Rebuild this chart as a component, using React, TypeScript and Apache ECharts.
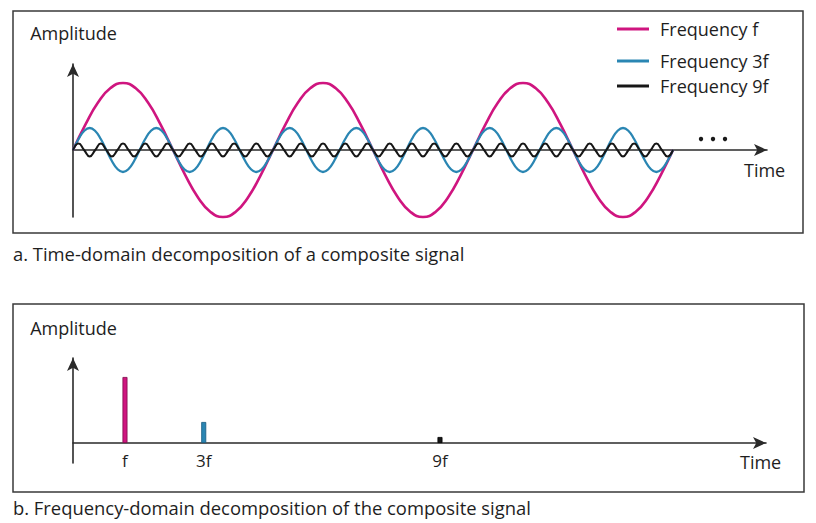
import React, { useEffect, useRef } from "react";
import * as echarts from "echarts";

// Time-domain samples (amplitude in px-like units)
const timeStepF = 12.5; // 1/16 of a period of f
const waveF = [
  0, 25.6, 47.4, 61.9, 67, 61.9, 47.4, 25.6, 0, -25.6, -47.4, -61.9, -67, -61.9, -47.4, -25.6,
  0, 25.6, 47.4, 61.9, 67, 61.9, 47.4, 25.6, 0, -25.6, -47.4, -61.9, -67, -61.9, -47.4, -25.6,
  0, 25.6, 47.4, 61.9, 67, 61.9, 47.4, 25.6, 0, -25.6, -47.4, -61.9, -67, -61.9, -47.4, -25.6,
  0,
];
const timeStep3F = 600 / 108; // 1/12 of a period of 3f
const wave3F = [
  0, 11, 19, 22, 19, 11, 0, -11, -19, -22, -19, -11,
  0, 11, 19, 22, 19, 11, 0, -11, -19, -22, -19, -11,
  0, 11, 19, 22, 19, 11, 0, -11, -19, -22, -19, -11,
  0, 11, 19, 22, 19, 11, 0, -11, -19, -22, -19, -11,
  0, 11, 19, 22, 19, 11, 0, -11, -19, -22, -19, -11,
  0, 11, 19, 22, 19, 11, 0, -11, -19, -22, -19, -11,
  0, 11, 19, 22, 19, 11, 0, -11, -19, -22, -19, -11,
  0, 11, 19, 22, 19, 11, 0, -11, -19, -22, -19, -11,
  0, 11, 19, 22, 19, 11, 0, -11, -19, -22, -19, -11,
  0,
];
const timeStep9F = 600 / 108; // quarter of a period of 9f
const wave9F = [
  0, 6.5, 0, -6.5, 0, 6.5, 0, -6.5, 0, 6.5, 0, -6.5,
  0, 6.5, 0, -6.5, 0, 6.5, 0, -6.5, 0, 6.5, 0, -6.5,
  0, 6.5, 0, -6.5, 0, 6.5, 0, -6.5, 0, 6.5, 0, -6.5,
  0, 6.5, 0, -6.5, 0, 6.5, 0, -6.5, 0, 6.5, 0, -6.5,
  0, 6.5, 0, -6.5, 0, 6.5, 0, -6.5, 0, 6.5, 0, -6.5,
  0, 6.5, 0, -6.5, 0, 6.5, 0, -6.5, 0, 6.5, 0, -6.5,
  0, 6.5, 0, -6.5, 0, 6.5, 0, -6.5, 0, 6.5, 0, -6.5,
  0, 6.5, 0, -6.5, 0, 6.5, 0, -6.5, 0, 6.5, 0, -6.5,
  0, 6.5, 0, -6.5, 0, 6.5, 0, -6.5, 0, 6.5, 0, -6.5,
  0,
];

// Frequency-domain spectrum
const spectrumFreq = [1, 3, 9];
const spectrumAmp = [66, 21, 6];
const spectrumLabels = ["f", "3f", "9f"];

const seriesNames = ["Frequency f", "Frequency 3f", "Frequency 9f"];
const colors = ["#cf157f", "#2a86b3", "#161616"];
const borderColors = ["#7d0d4a", "#175a80", "#000000"];

const FONT = "Open Sans";
const TEXT = "#1e1e1e";
const AXIS = "#2a2a2a";

const toPairs = (vals: number[], step: number) => vals.map((v, i) => [i * step, v]);

export default function App() {
  const ref = useRef<HTMLDivElement>(null);
  useEffect(() => {
    if (!ref.current) return;
    const chart = echarts.init(ref.current, undefined, { renderer: "svg" });
    const arrowLine = {
      show: true,
      symbol: ["none", "arrow"],
      symbolSize: [9, 13],
      lineStyle: { color: AXIS, width: 1.6 },
    };
    const legendBase = {
      orient: "horizontal" as const,
      left: 617,
      icon: "rect",
      itemWidth: 32,
      itemHeight: 3,
      selectedMode: false,
      padding: 0,
      textStyle: { fontFamily: FONT, fontSize: 18, color: TEXT, padding: [0, 0, 0, 6] },
    };
    chart.setOption({
      animation: false,
      backgroundColor: "#ffffff",
      legend: [
        { ...legendBase, top: 20, data: [seriesNames[0]] },
        { ...legendBase, top: 52, data: [seriesNames[1]] },
        { ...legendBase, top: 77, data: [seriesNames[2]] },
      ],
      grid: [
        { left: 73, top: 64, width: 694, height: 153 },
        { left: 73, top: 358, width: 693, height: 105 },
      ],
      xAxis: [
        {
          gridIndex: 0,
          type: "value",
          min: 0,
          max: 694,
          axisLine: { ...arrowLine, onZero: true },
          axisTick: { show: false },
          axisLabel: { show: false },
          splitLine: { show: false },
        },
        {
          gridIndex: 1,
          type: "value",
          min: -0.32,
          max: 17.28,
          axisLine: { ...arrowLine, onZero: true },
          axisTick: { show: false },
          splitLine: { show: false },
          axisLabel: {
            show: true,
            customValues: spectrumFreq,
            formatter: (v: number) => spectrumLabels[spectrumFreq.indexOf(v)] ?? "",
            fontFamily: FONT,
            fontSize: 17,
            color: TEXT,
            margin: -11,
          },
        },
      ],
      yAxis: [
        {
          gridIndex: 0,
          type: "value",
          min: -67,
          max: 86,
          axisLine: { ...arrowLine, onZero: false },
          axisTick: { show: false },
          axisLabel: { show: false },
          splitLine: { show: false },
        },
        {
          gridIndex: 1,
          type: "value",
          min: -20,
          max: 85,
          axisLine: { ...arrowLine, onZero: false },
          axisTick: { show: false },
          axisLabel: { show: false },
          splitLine: { show: false },
        },
      ],
      series: [
        {
          name: seriesNames[0],
          type: "line",
          xAxisIndex: 0,
          yAxisIndex: 0,
          data: toPairs(waveF, timeStepF),
          smooth: true,
          showSymbol: false,
          symbol: "none",
          clip: false,
          color: colors[0],
          lineStyle: { color: colors[0], width: 2.6 },
          z: 3,
        },
        {
          name: seriesNames[1],
          type: "line",
          xAxisIndex: 0,
          yAxisIndex: 0,
          data: toPairs(wave3F, timeStep3F),
          smooth: true,
          showSymbol: false,
          symbol: "none",
          clip: false,
          color: colors[1],
          lineStyle: { color: colors[1], width: 2.3 },
          z: 4,
        },
        {
          name: seriesNames[2],
          type: "line",
          xAxisIndex: 0,
          yAxisIndex: 0,
          data: toPairs(wave9F, timeStep9F),
          smooth: true,
          showSymbol: false,
          symbol: "none",
          clip: false,
          color: colors[2],
          lineStyle: { color: colors[2], width: 2 },
          z: 5,
        },
        {
          name: "Spectrum",
          type: "bar",
          xAxisIndex: 1,
          yAxisIndex: 1,
          barWidth: 5,
          data: spectrumFreq.map((f, i) => ({
            value: [f, spectrumAmp[i]],
            itemStyle: { color: colors[i], borderColor: borderColors[i], borderWidth: 0.8 },
          })),
          z: 3,
        },
      ],
      graphic: [
        { type: "rect", shape: { x: 13, y: 11, width: 790, height: 222 }, style: { fill: "none", stroke: "#3a3a3a", lineWidth: 1.5 }, silent: true },
        { type: "rect", shape: { x: 13, y: 304, width: 791, height: 188 }, style: { fill: "none", stroke: "#3a3a3a", lineWidth: 1.5 }, silent: true },
        { type: "text", x: 73.5, y: 33, style: { text: "Amplitude", fontFamily: FONT, fontSize: 18, fill: TEXT, textAlign: "center", textVerticalAlign: "middle" } },
        { type: "text", x: 73.5, y: 328, style: { text: "Amplitude", fontFamily: FONT, fontSize: 18, fill: TEXT, textAlign: "center", textVerticalAlign: "middle" } },
        { type: "text", x: 744, y: 170, style: { text: "Time", fontFamily: FONT, fontSize: 18, fill: TEXT, textAlign: "left", textVerticalAlign: "middle" } },
        { type: "text", x: 740, y: 462, style: { text: "Time", fontFamily: FONT, fontSize: 18, fill: TEXT, textAlign: "left", textVerticalAlign: "middle" } },
        { type: "circle", shape: { cx: 701, cy: 139, r: 2.2 }, style: { fill: "#1a1a1a" } },
        { type: "circle", shape: { cx: 713, cy: 139, r: 2.2 }, style: { fill: "#1a1a1a" } },
        { type: "circle", shape: { cx: 725, cy: 139, r: 2.2 }, style: { fill: "#1a1a1a" } },
        { type: "text", x: 13, y: 253, style: { text: "a. Time-domain decomposition of a composite signal", fontFamily: FONT, fontSize: 18.4, fill: TEXT, textAlign: "left", textVerticalAlign: "middle" } },
        { type: "text", x: 13, y: 507, style: { text: "b. Frequency-domain decomposition of the composite signal", fontFamily: FONT, fontSize: 18.4, fill: TEXT, textAlign: "left", textVerticalAlign: "middle" } },
      ],
    });
    return () => chart.dispose();
  }, []);
  return (
    <div
      ref={ref}
      style={{ position: "fixed", left: 0, top: 0, width: 816, height: 523 }}
    />
  );
}
